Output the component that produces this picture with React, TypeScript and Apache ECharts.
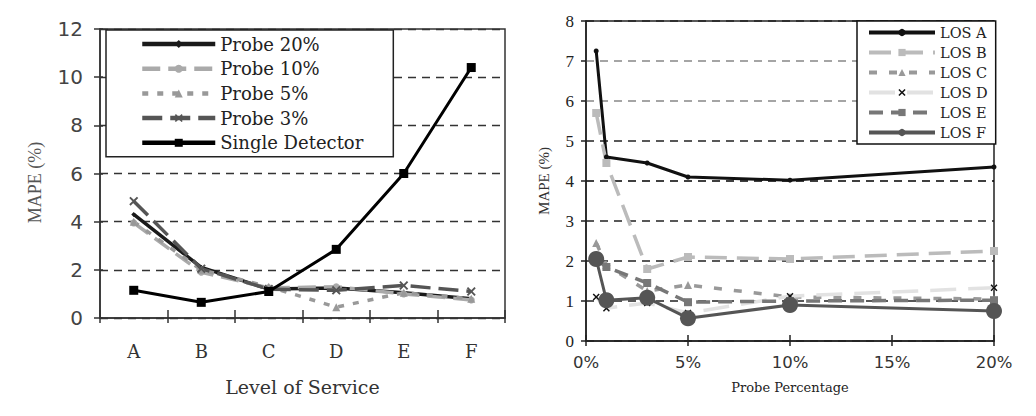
import React, { useEffect, useRef } from "react";
import * as echarts from "echarts";

const losCats = ["A", "B", "C", "D", "E", "F"];
const probe20 = [4.3, 2.1, 1.2, 1.25, 1.05, 0.8];
const probe10 = [3.95, 1.9, 1.25, 1.3, 1.0, 0.75];
const probe5 = [4.0, 2.0, 1.3, 0.45, 1.05, 0.8];
const probe3 = [4.85, 2.05, 1.2, 1.15, 1.35, 1.1];
const singleDet = [1.15, 0.65, 1.1, 2.85, 6.0, 10.4];

const probeX = [0.5, 1, 3, 5, 10, 20];
const losA = [7.25, 4.6, 4.45, 4.1, 4.02, 4.35];
const losB = [5.7, 4.45, 1.8, 2.1, 2.05, 2.25];
const losC = [2.45, 1.9, 1.25, 1.4, 1.1, 1.05];
const losD = [1.1, 0.82, 0.95, 0.7, 1.12, 1.33];
const losE = [2.05, 1.85, 1.45, 0.97, 1.0, 1.02];
const losF = [2.05, 1.02, 1.08, 0.57, 0.9, 0.75];

const leftTicks = [0, 2, 4, 6, 8, 10, 12];
const rightTicks = [0, 1, 2, 3, 4, 5, 6, 7, 8];
const xPctTicks = [0, 5, 10, 15, 20];

const SERIF = "Liberation Serif";
const WSERIF = "DejaVu Serif";
const WSANS = "DejaVu Sans";
const X_SYM =
  "path://M0,1.5L1.5,0L5,3.5L8.5,0L10,1.5L6.5,5L10,8.5L8.5,10L5,6.5L1.5,10L0,8.5L3.5,5Z";

function pairs(xs: number[], ys: number[]) {
  return xs.map((x, i) => [x, ys[i]]);
}

export default function App() {
  const ref = useRef<HTMLDivElement>(null);
  useEffect(() => {
    if (!ref.current) return;
    const chart = echarts.init(ref.current, null, { renderer: "svg" });
    const lMax = leftTicks[leftTicks.length - 1];
    const rMax = rightTicks[rightTicks.length - 1];
    const xMax = xPctTicks[xPctTicks.length - 1];
    const option: any = {
      animation: false,
      backgroundColor: "#fff",
      grid: [
        {
          left: 100,
          top: 29,
          width: 405,
          height: 289,
          show: true,
          borderColor: "#333",
          borderWidth: 1.5,
          backgroundColor: "transparent",
        },
        {
          left: 586,
          top: 21,
          width: 408,
          height: 320,
          show: true,
          borderColor: "#222",
          borderWidth: 1.5,
          backgroundColor: "transparent",
        },
      ],
      legend: [
        {
          data: ["Probe 20%", "Probe 10%", "Probe 5%", "Probe 3%", "Single Detector"],
          orient: "vertical",
          left: 106,
          top: 30,
          itemWidth: 73,
          itemHeight: 10,
          itemGap: 6.7,
          padding: [5, 30, 5, 34],
          backgroundColor: "#fff",
          borderColor: "#222",
          borderWidth: 1.5,
          lineStyle: { width: 4.5 },
          textStyle: { fontFamily: WSERIF, fontSize: 18, lineHeight: 18, color: "#222" },
          selectedMode: false,
        },
        {
          data: ["LOS A", "LOS B", "LOS C", "LOS D", "LOS E", "LOS F"],
          orient: "vertical",
          left: 857,
          top: 21,
          itemWidth: 66,
          itemHeight: 9,
          itemGap: 5,
          padding: [4, 8, 4, 10],
          backgroundColor: "#fff",
          borderColor: "#111",
          borderWidth: 1.5,
          lineStyle: { width: 4 },
          textStyle: { fontFamily: WSERIF, fontSize: 14.5, lineHeight: 14, color: "#222" },
          selectedMode: false,
        },
      ],
      xAxis: [
        {
          type: "category",
          gridIndex: 0,
          data: losCats,
          boundaryGap: true,
          axisLine: { lineStyle: { color: "#333", width: 1.5 } },
          axisTick: { show: true, length: 5, lineStyle: { color: "#333", width: 1.5 } },
          axisLabel: { fontFamily: WSERIF, fontSize: 18, color: "#333", margin: 24 },
          name: "Level of Service",
          nameLocation: "middle",
          nameGap: 59,
          nameTextStyle: { fontFamily: WSERIF, fontSize: 19, color: "#333" },
        },
        {
          type: "category",
          gridIndex: 0,
          data: losCats,
          position: "bottom",
          boundaryGap: true,
          axisLine: { show: false },
          axisTick: { show: true, inside: true, length: 8, lineStyle: { color: "#333", width: 1.5 } },
          axisLabel: { show: false },
        },
        {
          type: "value",
          gridIndex: 1,
          min: 0,
          max: xMax,
          interval: 5,
          axisLine: { lineStyle: { color: "#222", width: 1.5 } },
          axisTick: { show: true, length: 5, lineStyle: { color: "#222", width: 1.5 } },
          axisLabel: {
            fontFamily: WSANS,
            fontSize: 16.5,
            color: "#333",
            margin: 13,
            formatter: "{value}%",
          },
          splitLine: { show: false },
          name: "Probe Percentage",
          nameLocation: "middle",
          nameGap: 40,
          nameTextStyle: { fontFamily: WSERIF, fontSize: 13, color: "#222" },
        },
        {
          type: "value",
          gridIndex: 1,
          min: 0,
          max: xMax,
          interval: 5,
          position: "bottom",
          axisLine: { show: false },
          axisTick: { show: true, inside: true, length: 6, lineStyle: { color: "#222", width: 1.5 } },
          axisLabel: { show: false },
          splitLine: { show: false },
        },
      ],
      yAxis: [
        {
          type: "value",
          gridIndex: 0,
          min: 0,
          max: lMax,
          interval: 2,
          axisLine: { show: true, lineStyle: { color: "#333", width: 1.5 } },
          axisTick: { show: true, length: 6, lineStyle: { color: "#333", width: 1.5 } },
          axisLabel: { fontFamily: WSANS, fontSize: 20, color: "#444", margin: 17 },
          splitLine: {
            show: true,
            lineStyle: { color: "#333", type: [8, 6], width: 1.4 },
          },
          name: "MAPE (%)",
          nameLocation: "middle",
          nameGap: 56,
          nameTextStyle: { fontFamily: SERIF, fontSize: 18, color: "#555", padding: [0, 0, 0, -18] },
        },
        {
          type: "value",
          gridIndex: 0,
          min: 0,
          max: lMax,
          interval: 2,
          position: "left",
          axisLine: { show: false },
          axisTick: { show: true, inside: true, length: 3, lineStyle: { color: "#333", width: 1.5 } },
          axisLabel: { show: false },
          splitLine: { show: false },
        },
        {
          type: "value",
          gridIndex: 1,
          min: 0,
          max: rMax,
          interval: 1,
          axisLine: { show: true, lineStyle: { color: "#222", width: 1.5 } },
          axisTick: { show: true, length: 5, lineStyle: { color: "#222", width: 1.5 } },
          axisLabel: { fontFamily: SERIF, fontSize: 17, color: "#222", margin: 12 },
          splitLine: {
            show: true,
            lineStyle: {
              color: ["#222", "#222", "#222", "#222", "#000", "#222", "#888", "#888", "#222"],
              type: [8, 6],
              width: 1.5,
            },
          },
          name: "MAPE (%)",
          nameLocation: "middle",
          nameGap: 35,
          nameTextStyle: { fontFamily: SERIF, fontSize: 15, color: "#333" },
        },
      ],
      series: [
        {
          name: "Probe 20%",
          type: "line",
          xAxisIndex: 0,
          yAxisIndex: 0,
          data: probe20,
          symbol: "diamond",
          symbolSize: 5,
          lineStyle: { color: "#1a1a1a", width: 3.5 },
          itemStyle: { color: "#1a1a1a" },
        },
        {
          name: "Probe 10%",
          type: "line",
          xAxisIndex: 0,
          yAxisIndex: 0,
          data: probe10,
          symbol: "circle",
          symbolSize: 7,
          lineStyle: { color: "#aaa", width: 3.5, type: [18, 8] },
          itemStyle: { color: "#aaa" },
        },
        {
          name: "Probe 5%",
          type: "line",
          xAxisIndex: 0,
          yAxisIndex: 0,
          data: probe5,
          symbol: "triangle",
          symbolSize: 8,
          lineStyle: { color: "#999", width: 3.5, type: [6, 9] },
          itemStyle: { color: "#999" },
        },
        {
          name: "Probe 3%",
          type: "line",
          xAxisIndex: 0,
          yAxisIndex: 0,
          data: probe3,
          symbol: X_SYM,
          symbolSize: 9,
          lineStyle: { color: "#555", width: 3.5, type: [20, 8] },
          itemStyle: { color: "#555" },
        },
        {
          name: "Single Detector",
          type: "line",
          xAxisIndex: 0,
          yAxisIndex: 0,
          data: singleDet,
          symbol: "rect",
          symbolSize: 9,
          lineStyle: { color: "#000", width: 3 },
          itemStyle: { color: "#000" },
        },
        {
          name: "LOS A",
          type: "line",
          xAxisIndex: 2,
          yAxisIndex: 2,
          data: pairs(probeX, losA),
          symbol: "circle",
          symbolSize: 5,
          lineStyle: { color: "#111", width: 3 },
          itemStyle: { color: "#111" },
        },
        {
          name: "LOS B",
          type: "line",
          xAxisIndex: 2,
          yAxisIndex: 2,
          data: pairs(probeX, losB),
          symbol: "rect",
          symbolSize: 8,
          lineStyle: { color: "#bbb", width: 3.5, type: [22, 10] },
          itemStyle: { color: "#bbb" },
        },
        {
          name: "LOS C",
          type: "line",
          xAxisIndex: 2,
          yAxisIndex: 2,
          data: pairs(probeX, losC),
          symbol: "triangle",
          symbolSize: 8,
          lineStyle: { color: "#999", width: 3.5, type: [8, 12] },
          itemStyle: { color: "#999" },
        },
        {
          name: "LOS D",
          type: "line",
          xAxisIndex: 2,
          yAxisIndex: 2,
          data: pairs(probeX, losD),
          symbol: X_SYM,
          symbolSize: 7,
          lineStyle: { color: "#e2e2e2", width: 3.5, type: [26, 12] },
          itemStyle: { color: "#111" },
        },
        {
          name: "LOS E",
          type: "line",
          xAxisIndex: 2,
          yAxisIndex: 2,
          data: pairs(probeX, losE),
          symbol: "rect",
          symbolSize: 8,
          lineStyle: { color: "#777", width: 3.5, type: [14, 8] },
          itemStyle: { color: "#777" },
        },
        {
          name: "LOS F",
          type: "line",
          xAxisIndex: 2,
          yAxisIndex: 2,
          data: pairs(probeX, losF),
          symbol: "circle",
          symbolSize: 16,
          lineStyle: { color: "#555", width: 3 },
          itemStyle: { color: "#555" },
        },
      ],
    };
    chart.setOption(option);
    return () => chart.dispose();
  }, []);
  return (
    <div
      ref={ref}
      style={{ position: "fixed", left: 0, top: 0, width: 1036, height: 416, background: "#fff" }}
    />
  );
}
